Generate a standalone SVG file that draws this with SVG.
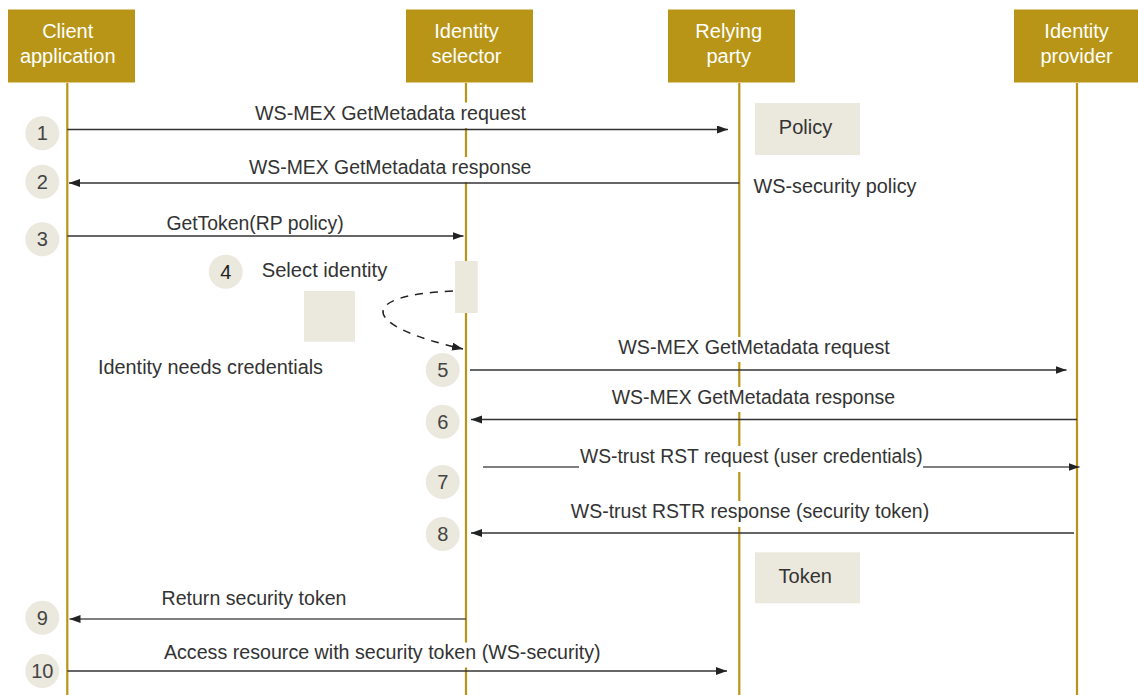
<svg xmlns="http://www.w3.org/2000/svg" width="1138" height="695" viewBox="0 0 1138 695">
<defs>
<style>
text{font-family:"Liberation Sans",Arial,sans-serif;font-size:20px;fill:#333}
.hd{fill:#b89516}
.hd-t{fill:#fff;text-anchor:middle}
.life{stroke:#b89516;stroke-width:2.2;fill:none}
.bg{fill:#fff}
.note{fill:#ebe8dd}
.num{fill:#ebe8dd}
.num-t{text-anchor:middle;fill:#444}
.msg{stroke:#333;stroke-width:1.4;fill:none}
.lbl{text-anchor:middle}
.dash{stroke:#222;stroke-width:1.5;fill:none;stroke-dasharray:8 7}
</style>
<marker id="ah" markerUnits="userSpaceOnUse" markerWidth="12" markerHeight="10" refX="11" refY="4" orient="auto">
<path d="M0,0 L11,4 L0,8 z" fill="#222"/>
</marker>
</defs>
<rect width="1138" height="695" fill="#fff"/>

<g id="lifelines">
<line class="life" x1="67.3" y1="83" x2="67.3" y2="695"/>
<line class="life" x1="466" y1="83" x2="466" y2="695"/>
<line class="life" x1="739.3" y1="83" x2="739.3" y2="695"/>
<line class="life" x1="1077" y1="83" x2="1077" y2="695"/>
</g>

<g id="client-application">
<rect class="hd" x="8" y="9.5" width="127" height="73"/>
<text class="hd-t" x="67.7" y="38">Client</text>
<text class="hd-t" x="67.7" y="63">application</text>
</g>
<g id="identity-selector">
<rect class="hd" x="406" y="9.5" width="127" height="73"/>
<text class="hd-t" x="466.5" y="38">Identity</text>
<text class="hd-t" x="466.5" y="63">selector</text>
</g>
<g id="relying-party">
<rect class="hd" x="668" y="9.5" width="127" height="73"/>
<text class="hd-t" x="728.7" y="38">Relying</text>
<text class="hd-t" x="728.7" y="63">party</text>
</g>
<g id="identity-provider">
<rect class="hd" x="1014" y="9.5" width="127" height="73"/>
<text class="hd-t" x="1076.6" y="38">Identity</text>
<text class="hd-t" x="1076.6" y="63">provider</text>
</g>

<g id="label-backgrounds">
<rect class="bg" x="253" y="102.5" width="275" height="25.5"/>
<rect class="bg" x="247" y="157" width="286" height="25"/>
<rect class="bg" x="616" y="337" width="276" height="25"/>
<rect class="bg" x="610" y="387" width="287" height="25"/>
<rect class="bg" x="578" y="446" width="347" height="26"/>
<rect class="bg" x="569" y="501" width="362" height="26"/>
<rect class="bg" x="162" y="642.5" width="441" height="25"/>
</g>

<g id="policy">
<rect class="note" x="755" y="103" width="105" height="52"/>
<text x="805.5" y="134" text-anchor="middle">Policy</text>
</g>
<text id="ws-security-policy" x="753.5" y="193" textLength="163" lengthAdjust="spacingAndGlyphs">WS-security policy</text>

<g id="token">
<rect class="note" x="755" y="552.3" width="105" height="51"/>
<text x="805.3" y="583.3" text-anchor="middle">Token</text>
</g>

<g id="select-identity">
<rect class="note" x="455" y="261" width="22.7" height="52"/>
<text x="261.7" y="277" textLength="125.6" lengthAdjust="spacingAndGlyphs">Select identity</text>
</g>
<g id="identity-needs-credentials">
<rect class="note" x="304" y="291" width="51" height="50.7"/>
<text x="98" y="373.5" textLength="225" lengthAdjust="spacingAndGlyphs">Identity needs credentials</text>
</g>

<g id="steps">
<g id="step1"><circle class="num" cx="42.3" cy="133.3" r="17"/><text class="num-t" x="42.3" y="140.3">1</text></g>
<g id="step2"><circle class="num" cx="42.3" cy="181.7" r="17"/><text class="num-t" x="42.3" y="188.7">2</text></g>
<g id="step3"><circle class="num" cx="42.3" cy="239.3" r="17"/><text class="num-t" x="42.3" y="246.3">3</text></g>
<g id="step4"><circle class="num" cx="225.7" cy="271.7" r="17"/><text class="num-t" x="225.7" y="278.7" style="fill:#222">4</text></g>
<g id="step5"><circle class="num" cx="442.7" cy="370" r="17"/><text class="num-t" x="442.7" y="377">5</text></g>
<g id="step6"><circle class="num" cx="442.7" cy="421.7" r="17"/><text class="num-t" x="442.7" y="428.7">6</text></g>
<g id="step7"><circle class="num" cx="442.7" cy="482" r="17"/><text class="num-t" x="442.7" y="489">7</text></g>
<g id="step8"><circle class="num" cx="442.7" cy="534" r="17"/><text class="num-t" x="442.7" y="541">8</text></g>
<g id="step9"><circle class="num" cx="42.3" cy="617.7" r="17"/><text class="num-t" x="42.3" y="624.7">9</text></g>
<g id="step10"><circle class="num" cx="42.3" cy="671" r="17"/><text class="num-t" x="42.3" y="678">10</text></g>
</g>

<g id="connectors">
<line class="msg" x1="67.3" y1="129.5" x2="728" y2="129.5" marker-end="url(#ah)"/>
<line class="msg" x1="739.3" y1="183" x2="69" y2="183" marker-end="url(#ah)"/>
<line class="msg" x1="67.3" y1="236" x2="463.5" y2="236" marker-end="url(#ah)"/>
<path class="dash" d="M453,291 C358,295 358,325 463,349" marker-end="url(#ah)"/>
<line class="msg" x1="470" y1="370" x2="1066.5" y2="370" marker-end="url(#ah)"/>
<line class="msg" x1="1077" y1="419.5" x2="471" y2="419.5" marker-end="url(#ah)"/>
<line class="msg" x1="483" y1="467" x2="579" y2="467" style="stroke:#555"/>
<line class="msg" x1="923" y1="467" x2="1079.5" y2="467" style="stroke:#555" marker-end="url(#ah)"/>
<line class="msg" x1="1074" y1="533" x2="471" y2="533" marker-end="url(#ah)"/>
<line class="msg" x1="466" y1="619" x2="69.5" y2="619" style="stroke:#555" marker-end="url(#ah)"/>
<line class="msg" x1="67.3" y1="671" x2="727" y2="671" marker-end="url(#ah)"/>
</g>

<g id="connector-labels">
<text class="lbl" x="390.5" y="119.5" textLength="271" lengthAdjust="spacingAndGlyphs">WS-MEX GetMetadata request</text>
<text class="lbl" x="390.2" y="174" textLength="282.4" lengthAdjust="spacingAndGlyphs">WS-MEX GetMetadata response</text>
<text class="lbl" x="255" y="230" textLength="177.2" lengthAdjust="spacingAndGlyphs">GetToken(RP policy)</text>
<text class="lbl" x="754" y="354" textLength="271.7" lengthAdjust="spacingAndGlyphs">WS-MEX GetMetadata request</text>
<text class="lbl" x="753.4" y="404" textLength="283.3" lengthAdjust="spacingAndGlyphs">WS-MEX GetMetadata response</text>
<text class="lbl" x="751.3" y="463" textLength="342.7" lengthAdjust="spacingAndGlyphs">WS-trust RST request (user credentials)</text>
<text class="lbl" x="750" y="518.3" textLength="358.3" lengthAdjust="spacingAndGlyphs">WS-trust RSTR response (security token)</text>
<text class="lbl" x="254" y="605" textLength="185" lengthAdjust="spacingAndGlyphs">Return security token</text>
<text class="lbl" x="382.3" y="659" textLength="436.7" lengthAdjust="spacingAndGlyphs">Access resource with security token (WS-security)</text>
</g>
</svg>
